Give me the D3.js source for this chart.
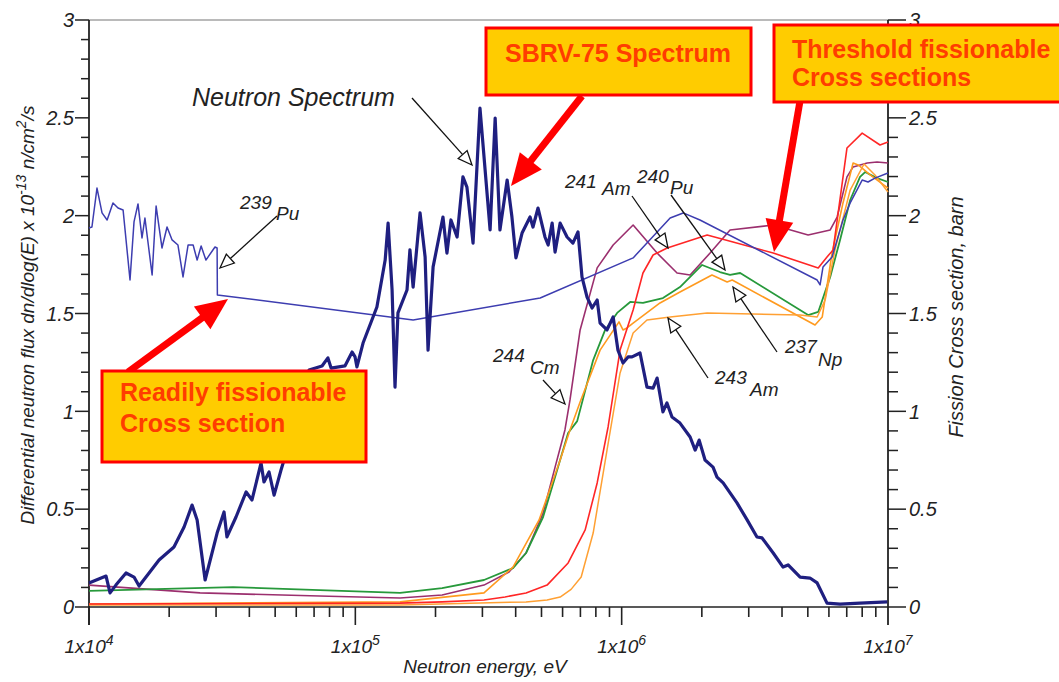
<!DOCTYPE html>
<html><head><meta charset="utf-8">
<script src="https://cdn.jsdelivr.net/npm/d3@7"></script>
<style>body{margin:0;background:#fff}svg{display:block}text{font-family:"Liberation Sans",Arial,Helvetica,sans-serif}</style>
</head><body><svg id="c" width="1059" height="682"></svg>
<script>
// ---- data: [log10(E / eV), value] ----
const xTickExponents = [4, 5, 6, 7];
const yTickLabels = ["0", "0.5", "1", "1.5", "2", "2.5", "3"];

const spectrum = [[4.000,0.123],[4.064,0.158],[4.079,0.072],[4.101,0.112],[4.139,0.174],[4.169,0.153],[4.188,0.107],[4.214,0.153],[4.263,0.240],[4.319,0.307],[4.357,0.409],[4.387,0.521],[4.406,0.445],[4.436,0.138],[4.481,0.378],[4.507,0.486],[4.518,0.358],[4.552,0.460],[4.590,0.588],[4.612,0.547],[4.646,0.736],[4.657,0.639],[4.676,0.690],[4.695,0.572],[4.721,0.700],[4.755,0.853],[4.792,1.032],[4.826,1.211],[4.875,1.232],[4.897,1.273],[4.909,1.221],[4.961,1.232],[4.988,1.303],[4.999,1.278],[5.006,1.227],[5.029,1.349],[5.081,1.533],[5.112,1.773],[5.123,1.962],[5.138,1.620],[5.149,1.124],[5.160,1.503],[5.194,1.620],[5.205,1.825],[5.217,1.635],[5.243,2.014],[5.262,1.789],[5.273,1.313],[5.292,1.738],[5.329,1.993],[5.344,1.809],[5.359,1.978],[5.382,1.891],[5.404,2.198],[5.419,2.146],[5.442,1.860],[5.468,2.550],[5.506,1.927],[5.525,2.499],[5.543,1.927],[5.570,2.182],[5.588,1.993],[5.603,1.784],[5.626,1.911],[5.656,1.993],[5.667,1.942],[5.686,2.039],[5.712,1.891],[5.724,1.850],[5.739,1.962],[5.750,1.814],[5.769,1.962],[5.795,1.891],[5.817,1.860],[5.836,1.917],[5.851,1.687],[5.870,1.584],[5.889,1.528],[5.908,1.569],[5.919,1.451],[5.945,1.416],[5.968,1.482],[5.986,1.313],[6.005,1.247],[6.024,1.278],[6.039,1.278],[6.069,1.298],[6.095,1.124],[6.118,1.119],[6.133,1.170],[6.155,0.997],[6.170,1.043],[6.189,0.971],[6.219,0.940],[6.257,0.869],[6.276,0.802],[6.291,0.853],[6.313,0.751],[6.343,0.715],[6.358,0.664],[6.381,0.634],[6.433,0.532],[6.471,0.445],[6.508,0.358],[6.527,0.353],[6.569,0.276],[6.606,0.204],[6.625,0.215],[6.670,0.153],[6.707,0.148],[6.734,0.123],[6.771,0.020],[6.820,0.015],[6.895,0.020],[6.997,0.026]];

const pu239 = [[4.000,1.937],[4.011,1.942],[4.030,2.141],[4.049,2.014],[4.068,1.978],[4.090,2.065],[4.109,2.039],[4.128,2.029],[4.154,1.671],[4.169,1.968],[4.184,2.060],[4.199,1.886],[4.210,1.988],[4.237,1.697],[4.252,2.049],[4.274,1.835],[4.293,1.942],[4.312,1.876],[4.334,1.850],[4.353,1.687],[4.372,1.850],[4.391,1.850],[4.406,1.773],[4.421,1.845],[4.439,1.773],[4.473,1.840],[4.481,1.835],[4.482,1.595],[5.217,1.467],[5.694,1.579],[6.043,1.784],[6.182,1.988],[6.231,2.014],[6.294,1.978],[6.734,1.671],[6.745,1.646],[6.756,1.738],[6.790,1.789],[6.831,1.978],[6.858,2.065],[6.903,2.182],[6.925,2.172],[6.951,2.192],[7.000,2.218]];

const am241 = [[4.000,0.015],[5.168,0.020],[5.326,0.026],[5.483,0.036],[5.562,0.051],[5.641,0.072],[5.720,0.112],[5.799,0.225],[5.863,0.394],[5.908,0.634],[5.949,0.920],[5.994,1.313],[6.043,1.518],[6.080,1.707],[6.118,1.799],[6.171,1.835],[6.321,1.901],[6.418,1.865],[6.569,1.809],[6.738,1.733],[6.771,1.789],[6.794,1.825],[6.846,2.346],[6.903,2.422],[6.970,2.361],[7.000,2.376]];

const cm244 = [[4.000,0.112],[4.417,0.072],[4.900,0.055],[5.168,0.046],[5.326,0.061],[5.483,0.112],[5.577,0.179],[5.641,0.276],[5.705,0.480],[5.750,0.715],[5.787,0.905],[5.806,1.058],[5.844,1.416],[5.908,1.733],[5.968,1.850],[6.043,1.952],[6.133,1.809],[6.208,1.707],[6.257,1.697],[6.332,1.809],[6.407,1.927],[6.569,1.952],[6.700,1.901],[6.783,1.927],[6.809,1.993],[6.846,2.198],[6.869,2.249],[6.922,2.269],[6.959,2.274],[7.000,2.269]];

const pu240 = [[4.000,0.082],[4.541,0.102],[5.168,0.072],[5.326,0.097],[5.483,0.138],[5.592,0.199],[5.641,0.276],[5.705,0.460],[5.750,0.664],[5.799,0.889],[5.833,0.950],[5.893,1.262],[5.938,1.416],[5.983,1.503],[6.032,1.559],[6.080,1.554],[6.155,1.579],[6.219,1.635],[6.302,1.748],[6.369,1.712],[6.407,1.697],[6.445,1.707],[6.700,1.492],[6.738,1.508],[6.783,1.687],[6.820,1.876],[6.858,2.080],[6.895,2.198],[6.914,2.223],[6.959,2.192],[7.000,2.172]];

const np237 = [[4.000,0.015],[5.168,0.026],[5.483,0.072],[5.592,0.204],[5.690,0.445],[5.769,0.751],[5.806,0.905],[5.844,1.048],[5.919,1.313],[5.990,1.457],[6.005,1.416],[6.020,1.426],[6.043,1.451],[6.144,1.554],[6.219,1.610],[6.339,1.697],[6.396,1.661],[6.415,1.671],[6.726,1.441],[6.753,1.482],[6.790,1.809],[6.831,2.065],[6.869,2.269],[6.888,2.259],[6.933,2.208],[7.000,2.141]];

const am243 = [[4.000,0.010],[5.168,0.010],[5.641,0.026],[5.720,0.036],[5.769,0.051],[5.810,0.090],[5.848,0.153],[5.893,0.378],[5.945,0.802],[5.994,1.196],[6.043,1.400],[6.095,1.467],[6.182,1.482],[6.321,1.503],[6.670,1.492],[6.734,1.482],[6.764,1.569],[6.801,1.825],[6.858,2.131],[6.910,2.264],[6.951,2.208],[7.000,2.121]];

// ---- layout ----
const P = {l: 89, r: 888, t: 20, b: 607};
const svg = d3.select("#c");
const x = d3.scaleLog().domain([1e4, 1e7]).range([P.l, P.r]);
const yL = d3.scaleLinear().domain([0, 3]).range([P.b, P.t]);
const yR = d3.scaleLinear().domain([0, 3]).range([P.b, P.t]);

const lineL = d3.line().x(d => x(Math.pow(10, d[0]))).y(d => yL(d[1]));
const lineR = d3.line().x(d => x(Math.pow(10, d[0]))).y(d => yR(d[1]));

const ink = "#222";
// frame
svg.append("line").attr("x1", P.l).attr("x2", P.r).attr("y1", P.t).attr("y2", P.t).attr("stroke", "#777").attr("stroke-width", 1.2);
svg.append("line").attr("x1", P.l).attr("x2", P.r).attr("y1", P.b).attr("y2", P.b).attr("stroke", ink).attr("stroke-width", 1.6);
svg.append("line").attr("x1", P.l).attr("x2", P.l).attr("y1", P.t).attr("y2", P.b + 18).attr("stroke", ink).attr("stroke-width", 1.8);
svg.append("line").attr("x1", P.r).attr("x2", P.r).attr("y1", P.t).attr("y2", P.b + 18).attr("stroke", ink).attr("stroke-width", 1.8);

// x ticks
const xt = svg.append("g");
for (let e = 4; e < 7; e++) {
  for (let k = 1; k <= 9; k++) {
    const v = k * Math.pow(10, e);
    xt.append("line").attr("x1", x(v)).attr("x2", x(v)).attr("y1", P.b).attr("y2", P.b + (k === 1 ? 18 : 10))
      .attr("stroke", ink).attr("stroke-width", 1.6);
  }
}
xTickExponents.forEach(e => {
  const t = svg.append("text").attr("x", x(Math.pow(10, e))).attr("y", 653).attr("text-anchor", "middle")
    .attr("font-size", 19).attr("font-style", "italic").attr("fill", ink);
  t.append("tspan").text("1x10");
  t.append("tspan").attr("font-size", 14).attr("dy", -8).text(e);
});

// y ticks (left and right)
const yt = svg.append("g");
d3.range(0, 31).forEach(i => {
  const v = i / 10, major = i % 5 === 0;
  yt.append("line").attr("x1", P.l - (major ? 14 : 8)).attr("x2", P.l).attr("y1", yL(v)).attr("y2", yL(v)).attr("stroke", ink).attr("stroke-width", 1.5);
  yt.append("line").attr("x1", P.r).attr("x2", P.r + (major ? 18 : 10)).attr("y1", yR(v)).attr("y2", yR(v)).attr("stroke", ink).attr("stroke-width", 1.5);
});
yTickLabels.forEach(s => {
  const v = +s;
  svg.append("text").attr("x", 74).attr("y", yL(v)).attr("dy", "0.36em").attr("text-anchor", "end")
    .attr("font-size", 20).attr("font-style", "italic").attr("fill", ink).text(s);
  svg.append("text").attr("x", 909).attr("y", yR(v)).attr("dy", "0.36em").attr("text-anchor", "start")
    .attr("font-size", 20).attr("font-style", "italic").attr("fill", ink).text(s);
});

// axis titles
svg.append("text").attr("x", 485).attr("y", 673).attr("text-anchor", "middle")
  .attr("font-size", 19).attr("font-style", "italic").attr("fill", ink).text("Neutron energy, eV");
const lt = svg.append("text").attr("transform", "translate(34,315) rotate(-90)").attr("text-anchor", "middle")
  .attr("font-size", 19).attr("font-style", "italic").attr("fill", ink);
lt.append("tspan").text("Differential neutron flux dn/dlog(E) x 10");
lt.append("tspan").attr("font-size", 14).attr("dy", -8).text("-13");
lt.append("tspan").attr("dy", 8).text(" n/cm");
lt.append("tspan").attr("font-size", 14).attr("dy", -8).text("2");
lt.append("tspan").attr("dy", 8).text("/s");
svg.append("text").attr("transform", "translate(963,317) rotate(-90)").attr("text-anchor", "middle")
  .attr("font-size", 20).attr("font-style", "italic").attr("fill", ink).text("Fission Cross section, barn");

// series
const series = [
  {d: cm244, c: "#9b2f6e", w: 1.6},
  {d: pu240, c: "#27993b", w: 1.8},
  {d: np237, c: "#ff9a1f", w: 1.6},
  {d: am243, c: "#ffa033", w: 1.5},
  {d: am241, c: "#ff2626", w: 1.6},
  {d: pu239, c: "#3d3db0", w: 1.5}
];
series.forEach(s => svg.append("path").attr("d", lineR(s.d)).attr("fill", "none").attr("stroke", s.c).attr("stroke-width", s.w).attr("stroke-linejoin", "round"));
svg.append("path").attr("d", lineL(spectrum)).attr("fill", "none").attr("stroke", "#1f1f80").attr("stroke-width", 3.2).attr("stroke-linejoin", "round");

// black callout arrows
function callout(x0, y0, x1, y1) {
  const dx = x1 - x0, dy = y1 - y0, L = Math.hypot(dx, dy), ux = dx / L, uy = dy / L;
  const hl = 14, hw = 6, bx = x1 - ux * hl, by = y1 - uy * hl;
  svg.append("line").attr("x1", x0).attr("y1", y0).attr("x2", bx).attr("y2", by).attr("stroke", "#111").attr("stroke-width", 1.3);
  svg.append("polygon").attr("points", [[x1, y1], [bx - uy * hw, by + ux * hw], [bx + uy * hw, by - ux * hw]].map(p => p.join(",")).join(" "))
    .attr("fill", "#fff").attr("stroke", "#111").attr("stroke-width", 1.3);
}
function iso(num, sym, xn, yn, xs, ys) {
  svg.append("text").attr("x", xn).attr("y", yn).attr("font-size", 19).attr("font-style", "italic").attr("fill", ink).text(num);
  svg.append("text").attr("x", xs).attr("y", ys).attr("font-size", 19).attr("font-style", "italic").attr("fill", ink).text(sym);
}
svg.append("text").attr("x", 192).attr("y", 106).attr("font-size", 25).attr("font-style", "italic").attr("fill", ink).text("Neutron Spectrum");
callout(412, 98, 472, 165);
iso("239", "Pu", 240, 209, 276, 220); callout(277, 216, 220, 268);
iso("241", "Am", 565, 188, 602, 195); callout(632, 196, 668, 248);
iso("240", "Pu", 637, 183, 670, 194); callout(671, 195, 725, 270);
iso("244", "Cm", 493, 362, 530, 374); callout(543, 380, 565, 404);
iso("243", "Am", 715, 384, 750, 396); callout(708, 378, 668, 318);
iso("237", "Np", 785, 353, 818, 366); callout(777, 352, 733, 287);

// red arrows
function redArrow(x0, y0, x1, y1) {
  const dx = x1 - x0, dy = y1 - y0, L = Math.hypot(dx, dy), ux = dx / L, uy = dy / L;
  const hl = 32, hw = 14, bx = x1 - ux * hl, by = y1 - uy * hl;
  svg.append("line").attr("x1", x0).attr("y1", y0).attr("x2", bx + ux * 2).attr("y2", by + uy * 2).attr("stroke", "#ff0000").attr("stroke-width", 7);
  svg.append("polygon").attr("points", [[x1, y1], [bx - uy * hw, by + ux * hw], [bx + uy * hw, by - ux * hw]].map(p => p.join(",")).join(" "))
    .attr("fill", "#ff0000");
}
redArrow(582, 96, 511, 186);
redArrow(800, 101, 774, 252);
redArrow(128, 372, 228, 299);

// boxes
function box(bx, by, bw, bh, lines, fs) {
  svg.append("rect").attr("x", bx).attr("y", by).attr("width", bw).attr("height", bh)
    .attr("fill", "#ffcc00").attr("stroke", "#ff0000").attr("stroke-width", 3);
  lines.forEach(l => svg.append("text").attr("x", l.x).attr("y", l.y).attr("text-anchor", l.a || "start")
    .attr("font-size", fs).attr("font-weight", "bold").attr("fill", "#ff3d00").text(l.t));
}
box(486, 28, 265, 67, [{t: "SBRV-75 Spectrum", x: 618, y: 62, a: "middle"}], 25);
box(774, 25, 295, 77, [{t: "Threshold fissionable", x: 792, y: 58}, {t: "Cross sections", x: 792, y: 86}], 25);
box(102, 371, 264, 91, [{t: "Readily fissionable", x: 120, y: 401}, {t: "Cross section", x: 120, y: 432}], 25);
</script></body></html>
